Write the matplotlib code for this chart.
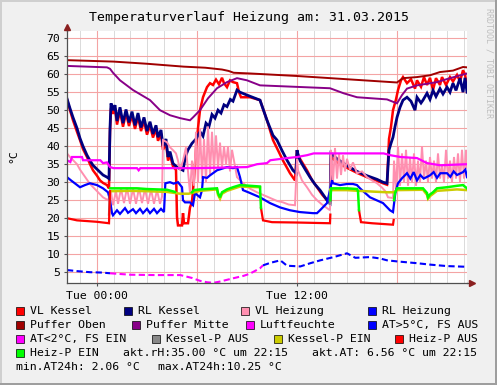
import numpy as np
import matplotlib
matplotlib.use("Agg")
import matplotlib.pyplot as plt
from matplotlib.patches import Rectangle
from matplotlib.lines import Line2D

plt.rcParams['font.family'] = 'DejaVu Sans Mono'

nan = np.nan
W, H = 497, 385

# time in hours relative to Tue 00:00, values in °C
T_START, T_END = -1.8, 22.2
Y_MIN, Y_MAX = 2.0, 72.0

RED = "#FF0000"
NAVY = "#000080"
PINK = "#FF8FB0"
BLUE = "#0000FF"
DARKRED = "#A00000"
PURPLE = "#880088"
MAGENTA = "#FF00FF"
GRAY = "#888888"
OLIVE = "#CCCC00"
GREEN = "#00FF00"

puffer_oben = [(-1.8, 63.9), (1.0, 63.5), (3.0, 62.9), (5.2, 62.1), (6.5, 61.8), (7.5, 61.3),
               (7.9, 60.9), (8.2, 60.4), (9.2, 60.2), (12.0, 59.5), (15.0, 58.6), (18.0, 57.7),
               (18.36, 58.9), (19.2, 59.2), (19.98, 59.7), (20.58, 60.6), (21.36, 61.0),
               (21.96, 62.0), (22.2, 61.9)]

puffer_mitte = [(-1.8, 62.3), (0.6, 61.9), (0.78, 61.5), (0.96, 60.4), (1.38, 58.3), (2.16, 55.6),
                (3.18, 52.8), (3.78, 50.0), (4.38, 48.6), (4.98, 47.8), (5.58, 47.2), (5.76, 48.0),
                (6.18, 50.0), (6.66, 53.3), (7.2, 56.1), (7.8, 57.8), (8.4, 58.9), (9.0, 58.3),
                (9.78, 56.9), (13.98, 56.1), (14.8, 54.7), (15.6, 53.6), (17.4, 53.0), (18.0, 51.9),
                (18.3, 54.2), (18.6, 56.0), (19.2, 56.9), (20.4, 57.8), (21.18, 58.9), (22.2, 60.2)]

vl_kessel = [(-1.8, 53.0), (-1.62, 50.0), (-1.44, 47.2), (-1.2, 44.0), (-1.02, 41.7), (-0.84, 39.2),
             (-0.6, 37.0), (-0.42, 35.0), (-0.24, 33.3), (0.0, 31.8), (0.18, 30.5), (0.36, 29.8),
             (0.6, 29.2), (0.72, 28.3), (0.78, 44.0), (0.84, 50.5), (0.96, 49.0), (1.08, 50.6),
             (1.2, 46.0), (1.38, 49.8), (1.56, 45.4), (1.74, 49.2), (1.92, 45.6), (2.1, 48.6),
             (2.28, 44.8), (2.46, 48.2), (2.64, 44.2), (2.82, 47.0), (3.0, 43.2), (3.18, 45.8),
             (3.36, 42.4), (3.54, 44.8), (3.66, 41.5), (3.84, 43.5), (3.96, 39.0), (4.14, 41.0),
             (4.26, 36.0), (4.38, 37.5), (4.56, 34.4), (4.74, 33.4), (4.8, 20.3), (4.86, 18.0),
             (5.1, 18.0), (5.16, 21.4), (5.22, 18.6), (5.46, 18.6), (5.58, 23.0), (5.7, 24.5),
             (5.82, 31.0), (5.94, 39.0), (6.06, 45.0), (6.18, 50.0), (6.36, 53.6), (6.6, 56.4),
             (6.78, 57.5), (6.96, 57.0), (7.14, 58.5), (7.32, 57.2), (7.5, 59.0), (7.62, 57.5),
             (7.8, 56.4), (7.98, 58.3), (8.16, 57.8), (8.4, 57.5), (8.52, 55.0), (8.64, 53.6),
             (9.18, 53.6), (9.78, 52.8), (10.2, 47.2), (10.56, 41.7), (10.9, 38.5), (11.16, 36.0),
             (11.58, 32.5), (11.88, 30.5), (12.0, 38.9), (12.06, 37.5), (12.18, 36.5), (12.6, 33.3),
             (12.9, 30.6), (13.2, 28.6), (13.5, 26.6), (13.8, 25.0), (13.98, 24.5), (14.04, 37.0),
             (14.4, 35.5), (15.0, 34.0), (15.6, 32.6), (16.2, 31.4), (16.8, 30.4), (17.16, 29.7),
             (17.4, 29.3), (17.52, 42.0), (17.64, 45.4), (17.76, 50.0), (17.94, 53.0), (18.06, 55.6),
             (18.24, 58.3), (18.36, 59.2), (18.6, 57.5), (18.84, 58.6), (19.08, 56.0), (19.2, 58.3),
             (19.44, 56.5), (19.62, 59.2), (19.8, 57.0), (19.98, 59.0), (20.16, 55.6), (20.34, 58.9),
             (20.58, 57.0), (20.7, 59.2), (20.94, 57.0), (21.18, 59.2), (21.36, 58.0), (21.6, 59.8),
             (21.78, 58.0), (21.96, 61.1), (22.08, 60.0), (22.2, 56.4)]

rl_kessel = [(-1.8, 53.2), (-1.62, 50.5), (-1.44, 48.0), (-1.2, 45.0), (-1.02, 42.2), (-0.84, 40.0),
             (-0.6, 37.5), (-0.42, 36.0), (-0.24, 34.7), (0.0, 33.6), (0.18, 32.8), (0.36, 32.0),
             (0.6, 31.4), (0.72, 31.0), (0.78, 45.0), (0.84, 51.9), (0.96, 50.0), (1.08, 51.4),
             (1.2, 47.0), (1.38, 50.8), (1.56, 46.4), (1.74, 50.2), (1.92, 46.6), (2.1, 49.6),
             (2.28, 45.8), (2.46, 49.2), (2.64, 45.2), (2.82, 48.0), (3.0, 44.2), (3.18, 46.8),
             (3.36, 43.4), (3.54, 45.8), (3.66, 42.5), (3.84, 44.5), (3.96, 40.0), (4.14, 42.0),
             (4.26, 37.0), (4.38, 38.5), (4.56, 35.2), (4.8, 34.2), (5.04, 33.6), (5.16, 33.3),
             (5.3, 37.0), (5.46, 39.0), (5.7, 40.8), (5.94, 42.0), (6.18, 44.0), (6.36, 42.8),
             (6.54, 46.4), (6.72, 45.5), (6.9, 48.8), (7.08, 47.8), (7.26, 50.0), (7.44, 49.2),
             (7.62, 51.5), (7.8, 51.0), (8.0, 53.0), (8.16, 52.5), (8.4, 55.6), (8.58, 55.0),
             (9.0, 54.2), (9.5, 53.3), (9.78, 52.8), (10.2, 47.2), (10.56, 43.0), (10.8, 41.7),
             (11.1, 38.8), (11.4, 36.1), (11.76, 33.3), (11.94, 32.5), (12.0, 38.9), (12.06, 37.8),
             (12.18, 36.0), (12.5, 33.5), (12.78, 31.4), (13.08, 29.4), (13.38, 27.8), (13.8, 25.0),
             (13.98, 24.2), (14.04, 38.0), (14.4, 36.5), (15.0, 34.6), (15.6, 33.0), (16.2, 31.8),
             (16.8, 30.8), (17.16, 30.0), (17.4, 29.7), (17.52, 38.9), (17.64, 40.8), (17.76, 42.5),
             (17.88, 45.4), (18.0, 48.0), (18.18, 50.8), (18.36, 52.8), (18.6, 53.6), (18.84, 52.5),
             (19.08, 50.0), (19.2, 53.6), (19.44, 52.0), (19.56, 52.8), (19.8, 54.7), (19.98, 53.0),
             (20.16, 55.5), (20.34, 53.8), (20.58, 56.0), (20.76, 54.5), (21.0, 56.4), (21.18, 55.0),
             (21.36, 57.5), (21.54, 55.5), (21.78, 58.9), (21.96, 55.0), (22.08, 59.0), (22.2, 55.0)]

vl_heizung = [(-1.8, 38.0), (-1.62, 37.0), (-1.2, 35.0), (-1.02, 33.5), (-0.84, 32.3), (-0.42, 29.5),
              (0.0, 27.5), (0.36, 25.8), (0.66, 25.0), (0.84, 27.2), (0.96, 23.6), (1.14, 27.5),
              (1.26, 24.0), (1.44, 28.2), (1.62, 24.2), (1.8, 28.4), (1.98, 24.0), (2.16, 28.2),
              (2.34, 24.0), (2.52, 28.4), (2.7, 24.2), (2.88, 28.2), (3.06, 24.0), (3.24, 28.0),
              (3.42, 24.0), (3.6, 27.8), (3.78, 24.0), (3.9, 26.0), (3.96, 41.7), (4.2, 41.1),
              (4.38, 39.7), (4.56, 38.9), (4.74, 38.0), (4.86, 36.0), (4.98, 33.3), (5.16, 36.0),
              (5.34, 39.7), (5.46, 33.0), (5.58, 27.0), (5.7, 36.0), (5.82, 29.0), (5.94, 44.0),
              (6.06, 30.0), (6.18, 45.0), (6.3, 31.0), (6.42, 42.0), (6.54, 30.0), (6.66, 45.5),
              (6.78, 32.0), (6.9, 44.0), (7.02, 33.0), (7.14, 43.0), (7.26, 34.0), (7.38, 41.0),
              (7.5, 34.0), (7.62, 40.0), (7.74, 35.0), (7.86, 40.0), (7.98, 33.0), (8.1, 39.0),
              (8.22, 36.0), (8.4, 31.4), (8.7, 30.0), (9.18, 28.2), (9.6, 27.2), (10.2, 26.0),
              (10.8, 24.8), (11.16, 24.4), (11.5, 23.8), (11.88, 23.6), (12.0, 36.5), (12.06, 33.3),
              (12.3, 30.5), (12.6, 28.6), (12.9, 26.5), (13.2, 25.0), (13.5, 23.8), (13.8, 22.8),
              (13.98, 22.2), (14.04, 39.0), (14.16, 30.0), (14.28, 39.5), (14.4, 31.0), (14.52, 38.0),
              (14.64, 32.0), (14.76, 37.5), (14.88, 33.0), (15.0, 36.5), (15.18, 33.5), (15.36, 35.5),
              (15.6, 32.5), (15.9, 33.0), (16.2, 31.4), (16.5, 30.5), (16.8, 29.7), (17.1, 28.5),
              (17.3, 27.5), (17.46, 25.8), (17.76, 25.6), (17.82, 36.0), (17.94, 28.0), (18.06, 40.0),
              (18.18, 29.0), (18.3, 38.0), (18.42, 30.0), (18.54, 39.0), (18.66, 29.0), (18.78, 37.0),
              (18.9, 30.0), (19.02, 38.0), (19.14, 29.0), (19.26, 36.0), (19.38, 30.0), (19.5, 40.0),
              (19.62, 31.0), (19.74, 36.0), (19.86, 30.0), (19.98, 37.0), (20.1, 31.0), (20.22, 36.0),
              (20.34, 30.0), (20.46, 38.0), (20.58, 31.0), (20.7, 35.0), (20.82, 30.0), (20.94, 39.0),
              (21.06, 31.0), (21.18, 36.0), (21.3, 30.0), (21.42, 37.0), (21.54, 31.0), (21.66, 38.0),
              (21.78, 30.0), (21.9, 39.0), (22.02, 31.0), (22.14, 39.0), (22.2, 34.0)]

rl_heizung = [(-1.8, 31.4), (-1.56, 30.5), (-1.02, 28.6), (-0.72, 29.2), (-0.42, 29.7), (0.0, 29.2),
              (0.36, 28.3), (0.66, 27.2), (0.78, 25.0), (0.9, 21.4), (0.96, 20.8), (1.2, 22.2),
              (1.38, 21.2), (1.68, 22.8), (1.86, 21.5), (2.16, 22.5), (2.34, 21.4), (2.58, 22.6),
              (2.76, 21.4), (3.0, 22.6), (3.18, 21.4), (3.42, 22.6), (3.6, 21.4), (3.84, 22.6),
              (4.02, 21.7), (4.1, 29.7), (4.38, 30.0), (4.6, 29.6), (4.86, 30.0), (5.1, 28.6),
              (5.16, 25.0), (5.28, 24.4), (5.58, 24.4), (5.76, 23.6), (5.88, 27.0), (6.0, 26.5),
              (6.18, 25.8), (6.3, 27.8), (6.36, 31.4), (6.6, 31.2), (6.78, 31.9), (7.2, 33.3),
              (7.8, 34.2), (8.16, 33.9), (8.4, 34.2), (8.58, 31.4), (8.76, 27.8), (9.18, 27.0),
              (9.78, 25.8), (10.38, 24.2), (10.98, 23.0), (11.58, 22.2), (12.18, 21.7), (12.96, 21.4),
              (13.2, 21.4), (13.38, 22.2), (13.8, 24.2), (13.98, 27.8), (14.1, 30.5), (14.16, 29.7),
              (14.58, 29.2), (15.0, 29.5), (15.36, 29.5), (15.6, 29.2), (15.78, 28.3), (16.38, 25.8),
              (17.16, 24.2), (17.58, 22.2), (17.76, 21.7), (17.9, 27.0), (18.06, 29.7), (18.3, 31.1),
              (18.6, 32.5), (18.8, 31.0), (19.0, 32.8), (19.2, 30.5), (19.4, 32.0), (19.6, 31.0),
              (19.98, 31.9), (20.2, 32.8), (20.4, 31.2), (20.6, 32.5), (21.0, 32.5), (21.2, 31.5),
              (21.4, 33.0), (21.6, 32.0), (21.96, 32.8), (22.1, 33.5), (22.2, 31.4)]

luftfeuchte = [(-1.8, 36.1), (-1.6, 35.6), (-1.5, 37.0), (-0.9, 37.0), (-0.84, 36.1), (0.2, 36.1),
               (0.36, 35.3), (0.6, 35.5), (0.78, 34.2), (1.0, 33.9), (2.4, 33.9), (2.5, 33.3),
               (2.6, 33.9), (6.0, 33.9), (9.0, 34.2), (9.6, 35.0), (10.2, 35.3), (10.4, 36.1),
               (11.4, 36.7), (12.0, 37.0), (12.6, 37.5), (13.0, 38.0), (17.2, 38.0), (17.6, 37.5),
               (18.2, 37.0), (19.2, 36.7), (19.8, 35.3), (20.6, 34.7), (22.2, 35.0)]

at_warm_1 = [(-1.8, 5.6), (-1.2, 5.3), (-0.42, 5.0), (0.3, 4.9), (0.78, 4.7)]
at_cold = [(0.78, 4.7), (2.0, 4.3), (3.5, 4.2), (5.0, 4.2), (5.7, 3.4), (6.18, 2.6), (6.6, 2.2),
           (7.0, 2.06), (7.38, 2.4), (8.16, 3.3), (8.8, 4.0), (9.18, 4.6), (9.78, 6.1), (9.96, 6.9)]
at_warm_2 = [(9.96, 6.9), (10.4, 7.6), (11.0, 8.3), (11.4, 6.8), (12.2, 6.6), (12.8, 7.5),
             (13.4, 8.3), (14.2, 9.2), (15.0, 10.25), (15.5, 9.0), (16.4, 9.2), (17.0, 8.8),
             (17.4, 8.3), (18.0, 8.0), (19.2, 7.5), (20.0, 7.1), (21.0, 6.7), (22.2, 6.5)]

kessel_p_aus = [(0.72, 21.0), (0.76, 26.0), (nan, nan), (13.96, 24.0), (13.99, 28.0)]
kessel_p_ein = [(0.8, 27.5), (2.0, 27.6), (3.0, 27.5), (4.2, 27.3), (4.68, 27.0), (5.0, 26.8),
                (5.5, 26.8), (5.7, 27.0), (6.18, 27.6), (7.2, 28.0), (7.26, 26.5), (7.38, 25.4),
                (7.5, 26.8), (7.8, 27.6), (8.58, 28.8), (9.78, 28.6), (nan, nan),
                (14.0, 27.8), (15.0, 27.8), (15.7, 27.6), (16.5, 27.4), (17.4, 27.2), (17.8, 27.2),
                (18.0, 27.8), (19.56, 27.9), (19.8, 26.5), (19.86, 25.4), (20.0, 26.2), (20.4, 27.6),
                (21.6, 28.0), (22.2, 27.8)]
heiz_p_aus = [(-1.8, 20.0), (-1.2, 19.4), (0.0, 19.0), (0.72, 18.6), (0.78, 27.5), (nan, nan),
              (9.84, 22.8), (9.96, 19.4), (10.5, 18.9), (12.0, 18.8), (13.98, 18.6), (14.0, 21.0),
              (nan, nan), (15.72, 22.2), (15.84, 18.9), (16.5, 18.6), (17.76, 18.2), (17.8, 19.5)]
heiz_p_ein = [(0.8, 28.3), (1.5, 28.3), (2.4, 28.3), (3.0, 28.1), (4.2, 27.9), (4.68, 27.3),
              (nan, nan), (5.7, 27.2), (5.82, 27.8), (6.18, 28.0), (7.2, 28.3), (7.26, 27.0),
              (7.38, 25.8), (7.5, 27.2), (7.8, 28.0), (8.16, 28.6), (8.58, 29.2), (9.78, 28.8),
              (9.84, 22.8), (nan, nan), (14.0, 25.0), (14.05, 28.3), (15.0, 28.3), (15.6, 28.1),
              (15.66, 27.5), (15.72, 22.2), (nan, nan), (17.82, 25.0), (17.88, 27.0), (18.0, 28.3),
              (19.56, 28.3), (19.8, 27.0), (19.86, 25.8), (19.98, 26.6), (20.16, 27.2), (20.4, 28.3),
              (21.0, 28.6), (21.6, 29.0), (21.96, 29.2), (22.2, 28.3)]

legend_rows = [
    [("VL Kessel", RED), ("RL Kessel", NAVY), ("VL Heizung", PINK), ("RL Heizung", BLUE)],
    [("Puffer Oben", DARKRED), ("Puffer Mitte", PURPLE), ("Luftfeuchte", MAGENTA),
     ("AT>5°C, FS AUS", BLUE)],
    [("AT<2°C, FS EIN", MAGENTA), ("Kessel-P AUS", GRAY), ("Kessel-P EIN", OLIVE),
     ("Heiz-P AUS", RED)],
    [("Heiz-P EIN", GREEN)],
]
akt_texts = ["akt.rH:35.00 °C um 22:15", "akt.AT: 6.56 °C um 22:15"]
minmax_texts = ["min.AT24h: 2.06 °C", "max.AT24h:10.25 °C"]
title = "Temperaturverlauf Heizung am: 31.03.2015"
x_ticks = [0, 12]
x_labels = ["Tue 00:00", "Tue 12:00"]
y_ticks = list(range(5, 71, 5))


def xy(pts):
    a = np.array(pts, dtype=float)
    return a[:, 0], a[:, 1]


def fx(x):
    return x / W


def fy(y):
    return 1 - y / H


fig = plt.figure(figsize=(W / 100, H / 100), dpi=100, facecolor="#F0F0F0")
ax = fig.add_axes((fx(67), fy(283), 400 / W, 252 / H))
ax.set_facecolor("white")
ax.set_xlim(T_START, T_END)
ax.set_ylim(Y_MIN, Y_MAX)

# grid
for h in range(-1, 23):
    if h % 6:
        ax.axvline(h, color="#DADADA", lw=0.7, zorder=0.5)
for h in (0, 6, 12, 18):
    ax.axvline(h, color="#F4A4A4", lw=0.8, zorder=0.6)
for v in y_ticks:
    ax.axhline(v, color="#F4A4A4", lw=0.8, zorder=0.6)

lines = [
    (vl_kessel, RED, 1.8), (rl_kessel, NAVY, 2.0), (vl_heizung, PINK, 1.4), (rl_heizung, BLUE, 1.6),
    (puffer_oben, DARKRED, 1.4), (puffer_mitte, PURPLE, 1.4), (luftfeuchte, MAGENTA, 1.6),
    (kessel_p_aus, GRAY, 1.6), (kessel_p_ein, OLIVE, 1.8), (heiz_p_aus, RED, 1.6),
    (heiz_p_ein, GREEN, 1.8),
]
for pts, col, lw in lines:
    t, v = xy(pts)
    ax.plot(t, v, color=col, lw=lw, zorder=2, solid_joinstyle="miter")

for pts, col in ((at_warm_1, BLUE), (at_cold, MAGENTA), (at_warm_2, BLUE)):
    t, v = xy(pts)
    ax.plot(t, v, color=col, lw=1.5, dashes=(3, 1.6), zorder=2)

# axes
for s in ("top", "right"):
    ax.spines[s].set_visible(False)
for s in ("left", "bottom"):
    ax.spines[s].set_color("#505050")
    ax.spines[s].set_linewidth(0.9)
ax.plot([0, 0], [1, 1.012], color="#505050", lw=0.9, transform=ax.transAxes, clip_on=False)
ax.plot([1, 1.008], [0, 0], color="#505050", lw=0.9, transform=ax.transAxes, clip_on=False)
ax.plot([0], [1.016], marker="^", ms=4.5, color="#8B2020", transform=ax.transAxes, clip_on=False)
ax.plot([1.012], [0], marker=">", ms=4.5, color="#8B2020", transform=ax.transAxes, clip_on=False)

ax.set_yticks(y_ticks)
ax.set_yticklabels([str(v) for v in y_ticks])
ax.set_xticks(x_ticks)
ax.set_xticklabels(x_labels)
ax.tick_params(axis="y", length=2, width=0.8, color="#505050", pad=3, labelsize=8.25)
ax.tick_params(axis="x", length=2, width=0.8, color="#505050", pad=4, labelsize=8.25)

# texts
fig.text(fx(249), fy(17), title, ha="center", va="center", fontsize=9.5)
fig.text(fx(13), fy(156), "°C", ha="center", va="center", rotation=90, fontsize=8.25)
fig.text(fx(489), fy(63), "RRDTOOL / TOBI OETIKER", ha="center", va="center", rotation=270,
         fontsize=6, color="#BEBEBE")

# legend
row_y = [311, 325, 339, 353, 367]
box_x = [[16, 124, 241, 368], [16, 132, 246, 368], [16, 152, 274, 395], [16]]
for r, entries in enumerate(legend_rows):
    for (label, col), bx in zip(entries, box_x[r]):
        fig.add_artist(Rectangle((fx(bx), fy(row_y[r] + 4)), 8 / W, 8 / H, facecolor=col,
                                 edgecolor="black", lw=0.5, transform=fig.transFigure))
        fig.text(fx(bx + 14), fy(row_y[r]), label, ha="left", va="center", fontsize=8.25)
for txt, x in zip(akt_texts, [123, 312]):
    fig.text(fx(x), fy(row_y[3]), txt, ha="left", va="center", fontsize=8.25)
for txt, x in zip(minmax_texts, [16, 158]):
    fig.text(fx(x), fy(row_y[4]), txt, ha="left", va="center", fontsize=8.25)

# frame shading
fig.add_artist(Rectangle((0, 0), 2 / W, 1, facecolor="#CFCFCF", lw=0, transform=fig.transFigure))
fig.add_artist(Rectangle((0, 1 - 2 / H), 1, 2 / H, facecolor="#CFCFCF", lw=0, transform=fig.transFigure))
fig.add_artist(Rectangle((1 - 2 / W, 0), 2 / W, 1, facecolor="#9E9E9E", lw=0, transform=fig.transFigure))
fig.add_artist(Rectangle((0, 0), 1, 2 / H, facecolor="#9E9E9E", lw=0, transform=fig.transFigure))

fig.savefig("out.png", dpi=100, facecolor=fig.get_facecolor())
